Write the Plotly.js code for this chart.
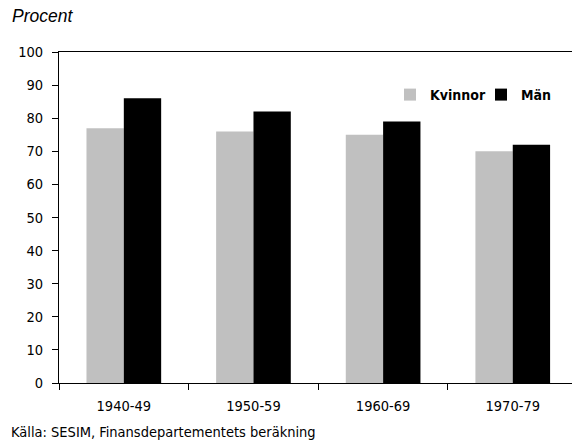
<!DOCTYPE html>
<html>
<head>
<meta charset="utf-8">
<script src="https://cdn.plot.ly/plotly-3.0.1.min.js"></script>
<style>html,body{margin:0;padding:0;background:#fff;}#chart{width:572px;height:447px;}</style>
</head>
<body>
<div id="chart"></div>
<script>
var categories = ['1940-49', '1950-59', '1960-69', '1970-79'];
var kvinnor = [77, 76, 75, 70];
var man = [86, 82, 79, 72];
var seriesNames = ['Kvinnor', 'Män'];
var yTicks = [0, 10, 20, 30, 40, 50, 60, 70, 80, 90, 100];

var narrow = "'DejaVu Sans Condensed', 'Liberation Sans Narrow', sans-serif";

var traces = [
  {type: 'bar', x: categories, y: kvinnor, name: seriesNames[0],
   marker: {color: '#c0c0c0', line: {width: 0}}, hoverinfo: 'skip'},
  {type: 'bar', x: categories, y: man, name: seriesNames[1],
   marker: {color: '#000000', line: {width: 0}}, hoverinfo: 'skip'}
];

var layout = {
  width: 572, height: 447,
  margin: {l: 59, r: 0, t: 52, b: 64, pad: 0, autoexpand: false},
  paper_bgcolor: '#ffffff', plot_bgcolor: '#ffffff',
  font: {family: narrow, size: 14.5, color: '#000'},
  barmode: 'group',
  bargap: 0.424,
  bargroupgap: 0,
  title: {
    text: 'Procent',
    font: {family: "'Liberation Sans', Arial, sans-serif", size: 17.5, style: 'italic', color: '#000'},
    xref: 'container', yref: 'container',
    x: 12/572, xanchor: 'left', y: 1 - 16/447, yanchor: 'middle'
  },
  xaxis: {
    type: 'category',
    range: [-0.5, 3.457],
    showline: true, linecolor: '#000', linewidth: 1,
    mirror: true,
    ticks: 'outside', tickson: 'boundaries', ticklen: 6, tickcolor: '#000', tickwidth: 1,
    ticklabelstandoff: 10,
    showgrid: false, zeroline: false,
    tickfont: {family: narrow, size: 14.5, color: '#000'}
  },
  yaxis: {
    range: [0, 100],
    tickvals: yTicks,
    showline: true, linecolor: '#000', linewidth: 1,
    ticks: 'outside', ticklen: 6, tickcolor: '#000', tickwidth: 1,
    ticklabelstandoff: 6,
    showgrid: false, zeroline: false,
    tickfont: {family: narrow, size: 14.5, color: '#000'}
  },
  showlegend: true,
  legend: {
    orientation: 'h',
    x: (390 - 59) / 513, xanchor: 'left',
    y: (383 - 95) / 331, yanchor: 'middle',
    bgcolor: 'rgba(0,0,0,0)', borderwidth: 0,
    entrywidth: 46, entrywidthmode: 'pixels',
    font: {family: narrow, size: 14, color: '#000', weight: 'bold'},
    traceorder: 'normal'
  },
  annotations: [{
    text: 'Källa: SESIM, Finansdepartementets beräkning',
    xref: 'paper', yref: 'paper',
    x: (9 - 59) / 513, xanchor: 'left',
    y: (383 - 432) / 331, yanchor: 'middle',
    showarrow: false,
    font: {family: narrow, size: 14.5, color: '#000'}
  }]
};

Plotly.newPlot('chart', traces, layout, {staticPlot: true, displayModeBar: false});
</script>
</body>
</html>
